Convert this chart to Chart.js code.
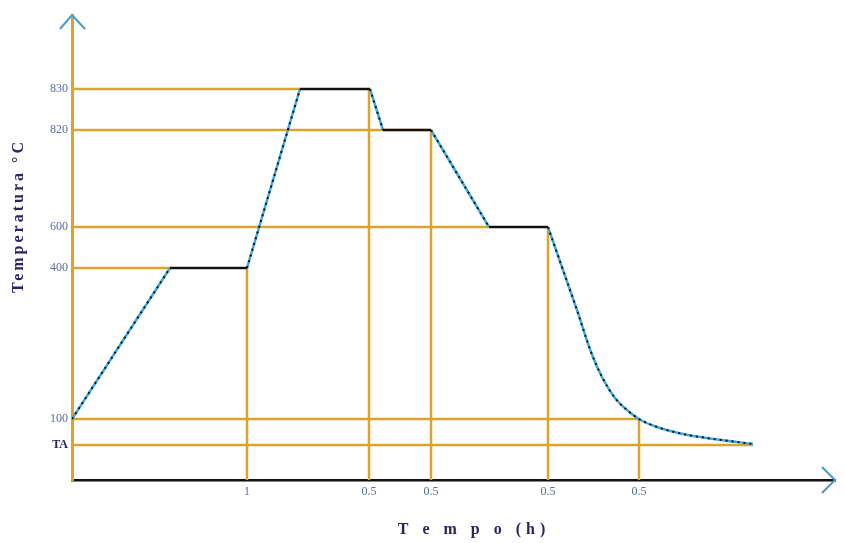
<!DOCTYPE html>
<html>
<head>
<meta charset="utf-8">
<script src="https://cdn.jsdelivr.net/npm/chart.js@4"></script>
<style>
  html, body { margin: 0; padding: 0; background: #fff; }
  #wrap { width: 845px; height: 543px; }
</style>
</head>
<body>
<div id="wrap"><canvas id="chart"></canvas></div>
<script>
// schematic heat treatment cycle (diagram units, not to scale)
const levelLabels = ["TA", "100", "400", "600", "820", "830"];
const levelHeight = [35, 61, 212, 253, 350, 391];

const tickLabels = ["1", "0.5", "0.5", "0.5", "0.5"];
const tickTime = [1.75, 2.97, 3.59, 4.76, 5.67];

// heating, holds and steps (straight segments)
const stepTime = [0, 0.98, 1.75, 2.28, 2.98, 3.11, 3.59, 4.17, 4.76];
const stepHeight = [61, 212, 212, 391, 391, 350, 350, 253, 253];

// final cooling (smooth curve)
const coolTime = [4.76, 4.91, 5.05, 5.19, 5.3, 5.43, 5.55, 5.67, 5.85, 6.11, 6.42, 6.81];
const coolHeight = [253, 210, 170, 128, 103, 82, 70, 61, 53, 46, 41, 36];

// guide lines: horizontal from the axis to the curve, vertical from the curve to the axis
const hGuideLevel = [391, 350, 253, 212, 61, 35];
const hGuideEnd = [2.28, 3.59, 4.17, 0.98, 5.67, 6.81];
const vGuideTime = [1.75, 2.97, 3.59, 4.76, 5.67];
const vGuideTop = [212, 391, 350, 253, 61];

const gold = "#dca52a";
const blue = "#3aa8e2";
const navy = "#2a2466";

const steps = stepTime.map((t, i) => ({ x: t, y: stepHeight[i] }));
const cooling = coolTime.map((t, i) => ({ x: t, y: coolHeight[i] }));
const isFlat = ctx => ctx.p0.parsed.y === ctx.p1.parsed.y;

const datasets = [
  {
    data: steps,
    borderColor: "#111",
    borderWidth: 2,
    segment: { borderDash: ctx => isFlat(ctx) ? [] : [2, 4] }
  },
  {
    data: steps,
    borderWidth: 2.5,
    segment: { borderColor: ctx => isFlat(ctx) ? "#222" : blue }
  },
  {
    data: cooling,
    borderColor: "#111",
    borderWidth: 2,
    borderDash: [2, 4],
    cubicInterpolationMode: "monotone"
  },
  {
    data: cooling,
    borderColor: blue,
    borderWidth: 2.5,
    cubicInterpolationMode: "monotone"
  }
];

hGuideLevel.forEach((lv, i) => {
  datasets.push({ data: [{ x: 0, y: lv }, { x: hGuideEnd[i], y: lv }], borderColor: gold, borderWidth: 2.5 });
});
vGuideTime.forEach((t, i) => {
  datasets.push({ data: [{ x: t, y: vGuideTop[i] }, { x: t, y: 0 }], borderColor: gold, borderWidth: 2.5 });
});

// arrow heads and axis titles
const decor = {
  id: "decor",
  afterDraw(chart) {
    const c = chart.ctx;
    const a = chart.chartArea;
    c.save();
    c.lineWidth = 2;
    c.strokeStyle = "#4a9cc0";
    c.beginPath();
    c.moveTo(a.left - 12, a.top + 14);
    c.lineTo(a.left, a.top);
    c.lineTo(a.left + 13, a.top + 14);
    c.stroke();
    c.beginPath();
    c.moveTo(a.right - 13, a.bottom - 13);
    c.lineTo(a.right, a.bottom);
    c.lineTo(a.right - 13, a.bottom + 13);
    c.stroke();

    c.fillStyle = navy;
    c.textAlign = "center";
    c.textBaseline = "middle";
    c.font = "bold 16px 'Liberation Serif'";
    c.letterSpacing = "5px";
    c.fillText("T e m p o (h)", 474, 530);

    c.translate(19, 216);
    c.rotate(-Math.PI / 2);
    c.letterSpacing = "3px";
    c.fillText("Temperatura °C", 0, 0);
    c.restore();
  }
};

new Chart(document.getElementById("chart"), {
  type: "line",
  data: { datasets },
  options: {
    responsive: true,
    maintainAspectRatio: false,
    animation: false,
    elements: { point: { radius: 0 }, line: { tension: 0, fill: false } },
    layout: { padding: { top: 15, right: 10, left: 0, bottom: 0 } },
    plugins: { legend: { display: false }, tooltip: { enabled: false } },
    scales: {
      x: {
        type: "linear",
        min: 0,
        max: 7.63,
        afterFit: s => { s.height = 63; },
        afterBuildTicks: s => { s.ticks = tickTime.map(v => ({ value: v })); },
        grid: { display: false, drawTicks: false },
        border: { color: "#111", width: 2.5 },
        ticks: {
          padding: 5,
          autoSkip: false,
          maxRotation: 0,
          color: "#5a6f9a",
          font: { family: "'Liberation Serif'", size: 12 },
          callback: (v, i) => tickLabels[i]
        }
      },
      y: {
        type: "linear",
        min: 0,
        max: 465,
        afterFit: s => { s.width = 72; },
        afterBuildTicks: s => { s.ticks = levelHeight.map(v => ({ value: v })); },
        grid: { display: false, drawTicks: false },
        border: { color: gold, width: 3 },
        ticks: {
          padding: 4,
          autoSkip: false,
          color: ctx => ctx.index === 0 ? navy : "#5a6f9a",
          font: ctx => ({ family: "'Liberation Serif'", size: 12, weight: ctx.index === 0 ? "bold" : "normal" }),
          callback: (v, i) => levelLabels[i]
        }
      }
    }
  },
  plugins: [decor]
});
</script>
</body>
</html>
